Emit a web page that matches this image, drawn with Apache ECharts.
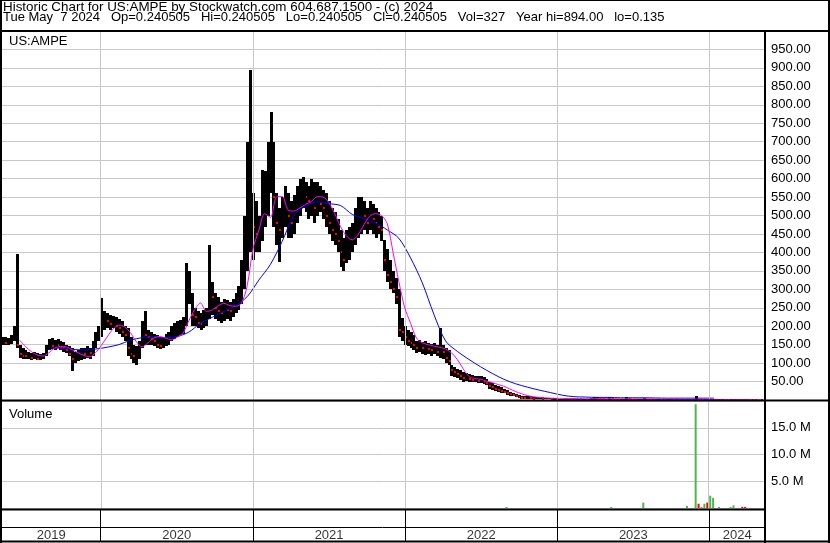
<!DOCTYPE html>
<html><head><meta charset="utf-8">
<script src="https://cdn.jsdelivr.net/npm/echarts/dist/echarts.min.js"></script>
<style>html,body{margin:0;padding:0;background:#fff}#c{width:830px;height:543px}</style>
</head><body><div id="c"></div><script>
// ---------- DATA (weekly) ----------
const firstWeek = '2019-05-10';
const lows = [
150,148,150,152,160,140,115,112,110,110,
108,110,108,108,110,120,135,138,135,140,
135,130,128,120,78,100,105,108,110,115,
112,120,140,160,170,190,195,190,195,185,
180,170,160,120,110,100,95,110,140,150,
150,148,145,140,138,140,145,150,160,165,
170,175,180,200,260,200,200,195,190,195,
200,220,230,220,215,210,215,220,215,225,
235,245,260,300,350,400,380,400,400,430,
470,500,560,470,420,375,440,470,440,440,
450,480,500,520,510,490,500,480,500,510,
490,470,450,430,420,400,360,350,370,380,
400,420,440,450,460,450,460,450,440,450,
430,350,320,300,290,260,170,160,150,145,
140,135,128,130,125,122,125,120,125,120,
115,110,100,95,65,62,60,55,50,52,
50,48,48,45,46,44,40,30,28,25,
22,20,18,14,12,10,8,6,4,3,
3,3,2,2,2,2,1.5,1.5,1.5,1,
1,1,1,0.9,1,0.8,0.8,0.8,0.7,0.8,
0.7,0.7,0.8,0.9,1,0.8,0.7,0.7,0.8,0.7,
0.7,0.6,0.6,0.7,0.8,0.7,0.6,0.6,0.5,0.6,
0.7,0.6,0.5,0.5,0.5,0.5,0.45,0.45,0.4,0.4,
0.4,0.35,0.35,0.3,0.3,0.3,0.25,0.25,0.3,0.3,
0.25,0.3,0.25,0.3,0.3,0.25,0.2,0.2,0.2,0.2,
0.2,0.2,0.18,0.18,0.16,0.15,0.15,0.14,0.14,0.14,
0.135];
const highs = [
172,170,168,176,200,395,150,140,135,130,
128,130,128,125,128,150,165,168,162,165,
160,158,150,145,140,130,135,140,140,145,
142,160,185,200,276,240,235,230,228,225,
220,215,200,195,170,150,145,160,215,240,
190,185,180,175,170,172,178,185,200,210,
215,216,225,372,350,290,250,240,235,245,
250,420,320,290,280,265,275,270,265,275,
290,310,380,500,700,894,560,540,500,623,
620,700,780,700,560,520,550,580,560,540,
555,580,600,605,590,580,600,590,590,580,
570,560,540,520,510,490,460,440,460,470,
480,520,550,550,540,520,540,530,520,510,
500,433,410,380,350,330,300,222,200,190,
185,175,160,162,158,160,155,152,155,150,
195,150,140,135,95,90,85,80,75,72,
70,68,66,64,65,62,58,50,45,40,
38,34,30,26,22,20,16,14,12,10,
12,10,9,8,8,7,6,6,5,5,
4.5,4,4,3.5,4,3.5,3,3.2,3,3.5,
3,4,5,8,9,4,3.5,3,9,4,
3,2.8,3,4,8,3.5,3,2.6,2.5,3,
6,3,2.5,2.4,2.2,2.5,2.2,2,2,2.2,
2,1.8,1.8,1.6,1.8,2.5,1.6,1.5,10,3,
2,2.5,2,3,2.5,1.8,1.5,1.4,1.3,1.3,
1.5,1.8,1.3,1.2,1.1,1,1,0.9,0.9,0.8,
0.6];
const closes = [
160,155,158,165,190,150,125,120,118,120,
115,120,112,115,118,140,150,145,150,148,
142,140,135,125,110,110,118,130,125,130,
128,150,175,185,210,225,215,205,210,200,
195,185,175,140,125,120,130,145,185,175,
170,165,160,150,145,160,165,175,190,200,
200,205,215,290,300,230,225,210,205,220,
230,300,280,250,240,235,250,245,240,255,
270,290,350,430,560,600,470,450,450,520,
560,650,700,550,480,460,500,530,500,480,
510,540,560,570,550,540,560,520,550,530,
520,500,480,460,450,430,400,380,420,430,
440,470,500,520,500,480,500,490,480,470,
460,380,340,320,300,280,190,185,170,160,
155,150,140,145,140,145,138,135,140,130,
145,130,115,105,80,75,70,65,60,60,
58,55,56,52,54,50,46,38,34,30,
28,25,22,18,15,13,10,8,6,5,
6,5,4,4,4,3,3,3,2.5,2.5,
2,2,2.2,1.8,2,1.6,1.5,1.6,1.4,1.5,
1.3,1.5,2,2.5,2,1.6,1.4,1.3,2,1.5,
1.2,1.1,1.2,1.5,2,1.4,1.2,1,1,1.2,
1.8,1.2,1,0.9,0.9,1,0.9,0.8,0.8,0.8,
0.7,0.7,0.6,0.6,0.6,0.7,0.5,0.5,1.2,0.6,
0.5,0.6,0.45,0.7,0.6,0.5,0.45,0.4,0.4,0.38,
0.4,0.45,0.35,0.33,0.3,0.28,0.28,0.26,0.25,0.25,
0.24];
// magenta moving average, one reading every 2 weeks starting at week 6
const maFastStartWeek = 6, maFastStep = 2;
const maFast = [
162,145,131,122,119,128,141,145,144,136,
128,121,117,128,148,171,192,203,198,182,
158,144,155,168,172,168,163,170,181,215,
245,263,240,244,255,262,256,254,262,310,
410,460,505,495,550,552,515,512,520,530,
538,551,550,535,505,470,445,434,448,475,
498,505,500,478,400,320,250,208,168,155,
150,146,143,138,128,110,85,64,58,56,
51,47,42,37,30,23,17,12,9,7,
6,5,4.6,4.4,4.2,4,3.8,3.6,3.6,3.8,
3.7,3.6,3.5,3.3,3.3,3.2,3,3,2.9,2.7,
2.5,2.3,2.1,1.9,1.8,1.7,2,2.1,1.9,1.8,
1.6,1.4,1.2,1.1,1,0.9,0.8,0.7];
// blue moving average, one reading every 4 weeks starting at week 16
const maSlowStartWeek = 16, maSlowStep = 4;
const maSlow = [
137,141,137,136,138,143,150,162,169,171,
169,172,184,208,224,240,256,280,325,368,
430,500,525,537,532,527,503,491,480,461,
438,385,318,232,160,132,110,90,72,56,
44,35,27,20,13,9,8,7,7,6,
6,6,5.5,5,5,5,5,5];
// volume (only weeks with a visible bar), millions of shares
const volWeeks  = [173,209,220,235,238,239,240,241,242,243,244,246,250,251,254,255];
const volValues = [0.12,0.1,1.0,0.4,19.4,0.8,0.12,0.8,1.0,2.3,1.9,0.1,0.15,0.5,0.2,0.2];
const volUp     = [1,1,1,1,1,0,1,1,0,1,1,1,1,1,0,0];
const yearStarts = ['2020-01-01','2021-01-01','2022-01-01','2023-01-01','2024-01-01'];
const yearLabels = ['2019','2020','2021','2022','2023','2024'];
const priceTicks = {min:0, max:1000, step:50};
const volTicks = {min:0, max:20, step:5};
const headerLine1 = 'Historic Chart for US:AMPE by Stockwatch.com 604.687.1500 - (c) 2024';
const headerLine2 = 'Tue May  7 2024   Op=0.240505   Hi=0.240505   Lo=0.240505   Cl=0.240505   Vol=327   Year hi=894.00   lo=0.135';
const symbolName = 'US:AMPE';
const volumeTitle = 'Volume';

// ---------- build ----------
const DAY = 864e5;
const ut = s => { const [y,m,d] = s.split('-').map(Number); return Date.UTC(y, m-1, d); };
const t0 = ut(firstWeek);
const weekTime = i => t0 + i * 7 * DAY;
const T2020 = ut(yearStarts[0]), T2024 = ut(yearStarts[4]);
const PLOT_L = 2, PLOT_R = 765, X2020 = 100.5, X2024 = 709.4;
const pxPerMs = (X2024 - X2020) / (T2024 - T2020);
const xMin = T2020 - (X2020 - PLOT_L) / pxPerMs;
const xMax = T2020 + (PLOT_R - X2020) / pxPerMs;

const ohlc = lows.map((lo, i) => [weekTime(i), lo, highs[i], closes[i], (i > 0 && closes[i] < closes[i-1]) ? 1 : 0]);
const fastData = maFast.map((v, k) => [weekTime(maFastStartWeek + k*maFastStep), v]);
const slowData = maSlow.map((v, k) => [weekTime(maSlowStartWeek + k*maSlowStep), v]);
const volData = volWeeks.map((w, k) => ({value:[weekTime(w), volValues[k]*1e6], itemStyle:{color: volUp[k] ? '#4cb84c' : '#ff0000'}}));
const yearBounds = [xMin].concat(yearStarts.map(ut)).concat([xMax]);
const yearLabelData = yearLabels.map((y, k) => ({value:[(yearBounds[k] + yearBounds[k+1]) / 2, 7], name:y}));

const FONT = '"Liberation Sans", Arial, sans-serif';
const GRID = '#c8c8c8';
const xAxisBase = (gi) => ({type:'time', gridIndex:gi, min:xMin, max:xMax,
  axisLabel:{show:false}, axisTick:{show:false}, axisLine:{show:false}, splitLine:{show:false}});
const yearLines = (color) => ({symbol:['none','none'], silent:true, animation:false,
  label:{show:false}, lineStyle:{color, width:1, type:'solid'},
  data: yearStarts.map(s => ({xAxis: ut(s)}))});
const hline = (y, x1, x2, w) => ({type:'line', z:100, silent:true, shape:{x1, y1:y, x2, y2:y}, style:{stroke:'#000', lineWidth:w}});
const vline = (x, y1, y2, w) => ({type:'line', z:100, silent:true, shape:{x1:x, y1, x2:x, y2}, style:{stroke:'#000', lineWidth:w}});
const txt = (x, y, text, size) => ({type:'text', z:100, silent:true, x, y,
  style:{text, font:size + 'px ' + FONT, fill:'#000', verticalAlign:'middle'}});

const chart = echarts.init(document.getElementById('c'));
chart.setOption({
  animation:false,
  backgroundColor:'#fff',
  grid:[
    {left:PLOT_L, top:31, width:PLOT_R-PLOT_L, height:369},
    {left:PLOT_L, top:401, width:PLOT_R-PLOT_L, height:107},
    {left:PLOT_L, top:510, width:PLOT_R-PLOT_L, height:32}
  ],
  xAxis:[xAxisBase(0), xAxisBase(1), xAxisBase(2)],
  yAxis:[
    {type:'value', gridIndex:0, position:'right', min:priceTicks.min, max:priceTicks.max, interval:priceTicks.step,
     axisLine:{show:false}, axisTick:{show:false},
     axisLabel:{margin:6, color:'#000', fontSize:13, fontFamily:FONT,
       formatter:v => (v === priceTicks.min || v === priceTicks.max) ? '' : v.toFixed(2)},
     splitLine:{lineStyle:{color:GRID, width:1}}},
    {type:'value', gridIndex:1, position:'right', min:volTicks.min*1e6, max:volTicks.max*1e6, interval:volTicks.step*1e6,
     axisLine:{show:false}, axisTick:{show:false},
     axisLabel:{margin:6, color:'#000', fontSize:13, fontFamily:FONT,
       formatter:v => (v === volTicks.min*1e6 || v === volTicks.max*1e6) ? '' : (v/1e6).toFixed(1) + ' M'},
     splitLine:{lineStyle:{color:GRID, width:1}}},
    {type:'value', gridIndex:2, min:0, max:32, show:false}
  ],
  series:[
    {type:'scatter', xAxisIndex:0, yAxisIndex:0, data:[[xMin,-10]], symbolSize:0, silent:true, z:1, markLine:yearLines(GRID)},
    {type:'scatter', xAxisIndex:1, yAxisIndex:1, data:[[xMin,-10]], symbolSize:0, silent:true, z:1, markLine:yearLines(GRID)},
    {type:'scatter', xAxisIndex:2, yAxisIndex:2, data:yearLabelData, symbolSize:0, silent:true, z:5,
     label:{show:true, position:'inside', formatter:p => p.name, color:'#000', fontSize:13, fontFamily:FONT},
     markLine:yearLines('#000')},
    {type:'custom', xAxisIndex:0, yAxisIndex:0, clip:true, z:3, data:ohlc, encode:{x:0, y:[1,2]},
     renderItem:(params, api) => {
       const t = api.value(0);
       const lo = api.coord([t, api.value(1)]);
       const hi = api.coord([t, api.value(2)]);
       const cl = api.coord([t, api.value(3)]);
       const x = Math.round(lo[0]);
       const top = Math.round(hi[1]), bot = Math.round(lo[1]);
       const children = [{type:'rect', shape:{x:x-1, y:top, width:3, height:Math.max(1, bot-top)}, style:{fill:'#000'}}];
       if (api.value(4)) children.push({type:'rect', shape:{x:x, y:Math.round(cl[1])-1, width:2, height:2}, style:{fill:'#ff0000'}});
       return {type:'group', children};
     }},
    {type:'line', xAxisIndex:0, yAxisIndex:0, data:slowData, showSymbol:false, smooth:0.3, z:4,
     lineStyle:{color:'#0000ff', width:1}},
    {type:'line', xAxisIndex:0, yAxisIndex:0, data:fastData, showSymbol:false, smooth:0.3, z:5,
     lineStyle:{color:'#ff00ff', width:1}},
    {type:'bar', xAxisIndex:1, yAxisIndex:1, data:volData, barWidth:2, barMinHeight:1, z:3}
  ],
  graphic:[
    hline(0.5, 0, 830, 1),
    hline(541.5, 0, 830, 2),
    vline(1, 0, 543, 2),
    vline(829, 0, 543, 2),
    hline(31, 0, 830, 2),
    hline(400.5, 0, 830, 2),
    vline(765, 31, 543, 2),
    hline(509.5, 0, 765, 2),
    hline(527.5, 0, 765, 1),
    txt(3, 7, headerLine1, 13.4),
    txt(3, 17.5, headerLine2, 13),
    txt(9, 41, symbolName, 13),
    txt(9, 414, volumeTitle, 13)
  ]
});
</script></body></html>
